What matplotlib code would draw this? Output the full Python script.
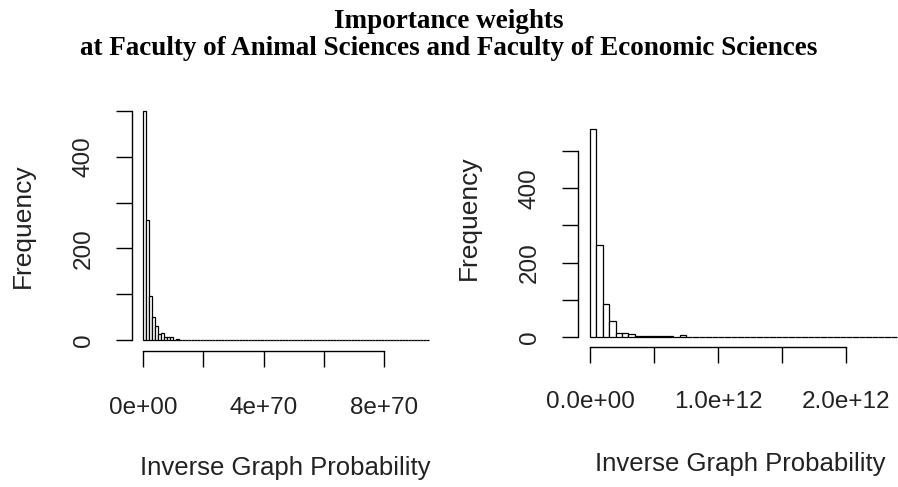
import matplotlib
matplotlib.use('Agg')
import matplotlib.pyplot as plt

# histogram counts
# left panel: Faculty of Animal Sciences, bins of width 1e69 from 0 to 9.5e70
left_binwidth = 1e69
left_counts = [
    500, 263, 95, 50, 31, 13, 16, 7, 7, 7,
    0, 2, 1, 0, 1, 0, 0, 1, 0, 0,
    0, 1, 0, 0, 0, 1, 0, 0, 0, 0,
    1, 0, 0, 0, 0, 0, 0, 0, 1, 0,
    0, 0, 0, 0, 0, 0, 0, 1, 0, 0,
    0, 0, 0, 0, 0, 0, 0, 0, 0, 0,
    1, 0, 0, 0, 0, 0, 0, 0, 0, 0,
    0, 0, 0, 0, 0, 0, 0, 0, 0, 0,
    0, 0, 0, 0, 0, 0, 0, 0, 0, 0,
    0, 0, 0, 0, 1,
]
left_xticks = [0, 2e70, 4e70, 6e70, 8e70]
left_xlabels = ['0e+00', '', '4e+70', '', '8e+70']

# right panel: Faculty of Economic Sciences, bins of width 5e10 from 0 to 2.4e12
right_binwidth = 5e10
right_counts = [
    560, 247, 89, 43, 11, 11, 7, 4, 3, 3,
    3, 3, 3, 0, 5, 0, 0, 0, 0, 0,
    0, 0, 0, 0, 0, 0, 0, 0, 0, 0,
    0, 0, 0, 0, 0, 0, 0, 0, 0, 0,
    0, 0, 0, 0, 0, 0, 0, 1,
]
right_xticks = [0, 5e11, 1e12, 1.5e12, 2e12]
right_xlabels = ['0.0e+00', '', '1.0e+12', '', '2.0e+12']

yticks = [0, 100, 200, 300, 400, 500]
ylabels = ['0', '', '200', '', '400', '']

W, H = 898, 487
fig = plt.figure(figsize=(W / 100, H / 100), dpi=100)
plt.rcParams['font.family'] = ['Liberation Sans', 'DejaVu Sans']
TXT = '#222222'
PT = 0.72  # points per pixel at dpi 100


def add_axes(box, xmap, ymap):
    # box in pixels (left, top, right, bottom), maps are (pixel, value, pixel, value)
    x0, y0, x1, y1 = box
    ax = fig.add_axes([x0 / W, 1 - y1 / H, (x1 - x0) / W, (y1 - y0) / H])
    pa, va, pb, vb = xmap
    sx = (vb - va) / (pb - pa)
    ax.set_xlim(va + (x0 - pa) * sx, va + (x1 - pa) * sx)
    qa, ua, qb, ub = ymap
    sy = (ub - ua) / (qb - qa)
    ax.set_ylim(ua + (y1 - qa) * sy, ua + (y0 - qa) * sy)
    ax.patch.set_alpha(0)
    return ax


def draw_hist(ax, counts, bw, xticks, xlabels, left_off, bottom_off, xpad):
    edges = [i * bw for i in range(len(counts))]
    ax.bar(edges, counts, width=bw, align='edge', color='white',
           edgecolor='black', linewidth=0.9)
    for s in ['top', 'right']:
        ax.spines[s].set_visible(False)
    ax.spines['left'].set_position(('outward', left_off * PT))
    ax.spines['bottom'].set_position(('outward', bottom_off * PT))
    ax.spines['left'].set_bounds(yticks[0], yticks[-1])
    ax.spines['bottom'].set_bounds(xticks[0], xticks[-1])
    for s in ['left', 'bottom']:
        ax.spines[s].set_linewidth(1.0)
    ax.set_xticks(xticks)
    ax.set_xticklabels(xlabels)
    ax.set_yticks(yticks)
    ax.set_yticklabels(ylabels, rotation=90)
    ax.tick_params(axis='x', length=16 * PT, width=1.0, pad=xpad * PT,
                   labelsize=17.5, labelcolor=TXT)
    ax.tick_params(axis='y', length=16 * PT, width=1.0, pad=32 * PT,
                   labelsize=17.5, labelcolor=TXT)
    for lbl in ax.get_xticklabels():
        lbl.set_va('center_baseline')
    for lbl in ax.get_yticklabels():
        lbl.set_ha('center')
        lbl.set_va('center')


ax1 = add_axes((138, 100, 440, 345), (143, 0, 384, 8e70), (340, 0, 111, 500))
draw_hist(ax1, left_counts, left_binwidth, left_xticks, left_xlabels, 6, 6, 38)

ax2 = add_axes((585, 100, 898, 341), (590, 0, 846, 2e12), (337, 0, 151, 500))
draw_hist(ax2, right_counts, right_binwidth, right_xticks, right_xlabels, 7, 6, 36)

fig.text(22.5 / W, 1 - 226 / H, 'Frequency', rotation=90, ha='center',
         va='center', fontsize=19, color=TXT)
fig.text(469 / W, 1 - 218 / H, 'Frequency', rotation=90, ha='center',
         va='center', fontsize=19, color=TXT)
fig.text(285 / W, 1 - 475 / H, 'Inverse Graph Probability', ha='center',
         va='baseline', fontsize=18.5, color=TXT)
fig.text(740 / W, 1 - 471 / H, 'Inverse Graph Probability', ha='center',
         va='baseline', fontsize=18.5, color=TXT)

fig.text(0.5, 1 - 28 / H, 'Importance weights', ha='center',
         va='baseline', fontsize=19.5, fontweight='bold',
         family='Liberation Serif')
fig.text(0.5, 1 - 55 / H,
         'at Faculty of Animal Sciences and Faculty of Economic Sciences',
         ha='center', va='baseline', fontsize=19.5, fontweight='bold',
         family='Liberation Serif')

fig.savefig('out.png', dpi=100)
